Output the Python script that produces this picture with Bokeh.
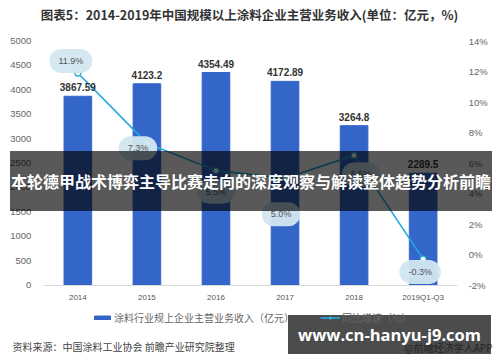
from bokeh.plotting import figure
from bokeh.models import (ColumnDataSource, Range1d, FactorRange, LinearAxis, LabelSet, Label,
                          Legend, LegendItem, FixedTicker, PrintfTickFormatter)
from bokeh.core.properties import value
from bokeh.embed import file_html
from bokeh.resources import INLINE

# ---- data ----
years = ["2014", "2015", "2016", "2017", "2018", "2019Q1-Q3"]
revenue = [3867.59, 4123.2, 4354.49, 4172.89, 3264.8, 2289.5]
growth = [11.9, 7.3, 5.5, 5.0, 6.5, -0.3]
left_ticks = [0, 500, 1000, 1500, 2000, 2500, 3000, 3500, 4000, 4500, 5000]
right_ticks = [-2, 0, 2, 4, 6, 8, 10, 12, 14]

title_text = "图表5：2014-2019年中国规模以上涂料企业主营业务收入(单位：亿元，%)"
bar_name = "涂料行业规上企业主营业务收入（亿元）"
line_name = "同比增速（%）"
source_text = "资料来源：中国涂料工业协会 前瞻产业研究院整理"
app_text = "@前瞻经济学人APP"
banner_text = "本轮德甲战术博弈主导比赛走向的深度观察与解读整体趋势分析前瞻"
url_text = "www.cn-hanyu-j9.com"

# ---- layout / style ----
W, H = 500, 362
TOP, BOTTOM = 40.5, 284.5          # pixel rows of the axis extremes
L_MAX, R_MIN, R_MAX = 5000, -2, 14
lab_dx = [-7, -9, 0, -4, 7, -3]     # pixel offsets of the growth bubbles
lab_dy = [12, -5, -21, -36, -19, -13]

BAR = "#3465C9"
LINE = "#22A7DD"
CJK = "Noto Sans CJK SC"
LAT = "Liberation Sans"

upp = L_MAX / (BOTTOM - TOP)
upp2 = (R_MAX - R_MIN) / (BOTTOM - TOP)
y_rng = Range1d(0 - (H - BOTTOM) * upp, L_MAX + TOP * upp)
pct_rng = Range1d(R_MIN - (H - BOTTOM) * upp2, R_MAX + TOP * upp2)

src = ColumnDataSource(dict(
    year=years, rev=revenue, g=growth,
    rev_txt=[f"{v:g}" for v in revenue],
))

p = figure(width=W, height=H, title=None,
           x_range=FactorRange(factors=years, range_padding=0.62,
                               range_padding_units="absolute"),
           y_range=y_rng, output_backend="svg", toolbar_location=None,
           min_border=0)
p.outline_line_color = None
p.background_fill_color = "white"
p.border_fill_color = "white"
p.grid.grid_line_color = None
p.extra_y_ranges = {"pct": pct_rng}

bars = p.vbar(x="year", top="rev", width=0.4, source=src, color=BAR)
ln = p.line(x="year", y="g", source=src, y_range_name="pct",
            line_color=LINE, line_width=1.6)
pts = p.scatter(x="year", y="g", source=src, y_range_name="pct", size=6,
                fill_color="white", line_color=LINE, line_width=1.2)

# axes (drawn at fixed locations inside the canvas)
ya = p.yaxis[0]
ya.ticker = FixedTicker(ticks=left_ticks)
ya.fixed_location = 0
ra = LinearAxis(y_range_name="pct", ticker=FixedTicker(ticks=right_ticks),
                formatter=PrintfTickFormatter(format="%d%%"))
ra.fixed_location = len(years)
p.add_layout(ra, "right")
for ax, so in ((ya, 12), (ra, 11)):
    ax.axis_line_color = None
    ax.major_tick_line_color = None
    ax.minor_tick_line_color = None
    ax.major_tick_out = 0
    ax.major_tick_in = 0
    ax.major_label_text_font = LAT
    ax.major_label_text_font_size = "9.5px"
    ax.major_label_text_color = "#666666"
    ax.major_label_standoff = so

xa = p.xaxis[0]
xa.fixed_location = 0
xa.bounds = (0, len(years))
xa.axis_line_color = "#D9D9D9"
xa.axis_line_width = 1
xa.major_tick_line_color = None
xa.minor_tick_line_color = None
xa.major_tick_out = 0
xa.major_tick_in = 0
xa.major_label_text_font = LAT
xa.major_label_text_font_size = "8px"
xa.major_label_text_color = "#555555"
xa.major_label_standoff = 8

# bar value labels
p.add_layout(LabelSet(x="year", y="rev", text="rev_txt", source=src,
                      y_offset=5, text_align="center", text_baseline="bottom",
                      text_font=value(LAT), text_font_style="bold",
                      text_font_size="10px", text_color="#333333"))

# growth labels in light bubbles (x: category centre on the factor range)
for i, (g, dx, dy) in enumerate(zip(growth, lab_dx, lab_dy)):
    p.add_layout(Label(x=i + 0.5, y=g, y_range_name="pct", x_offset=dx, y_offset=dy,
                       text=f"{g:.1f}%", text_align="center", text_baseline="middle",
                       text_font=LAT, text_font_size="9px", text_color="#555555",
                       background_fill_color="#D3E7F0", background_fill_alpha=0.95,
                       padding=dict(left=9, right=9, top=7, bottom=7),
                       border_radius=12))

# legend
legend = Legend(items=[LegendItem(label=bar_name, renderers=[bars]),
                       LegendItem(label=line_name, renderers=[ln, pts])],
                orientation="horizontal", location=(92, 37),
                glyph_width=20, glyph_height=5, label_standoff=2, spacing=26,
                padding=0, margin=0, border_line_color=None,
                background_fill_alpha=0,
                label_text_font=CJK, label_text_font_size="10px",
                label_text_color="#666666")
p.add_layout(legend, "center")

# title and notes (canvas px, y from top)
p.add_layout(Label(x=249, y=14, x_units="canvas", y_units="canvas",
                   text=title_text, text_align="center", text_baseline="middle",
                   text_font=CJK, text_font_style="bold", text_font_size="12.5px",
                   text_color="#333333"))
p.add_layout(Label(x=12, y=346, x_units="canvas", y_units="canvas",
                   text=source_text, text_align="left", text_baseline="middle",
                   text_font=CJK, text_font_size="10px", text_color="#444444"))
p.add_layout(Label(x=492, y=347, x_units="canvas", y_units="canvas",
                   text=app_text, text_align="right", text_baseline="middle",
                   text_font=CJK, text_font_size="10px", text_color="#777777"))

# overlays
p.add_layout(Label(x=250.5, y=180.5, x_units="canvas", y_units="canvas", level="overlay",
                   text=banner_text, text_align="center", text_baseline="middle",
                   text_font=CJK, text_font_style="bold", text_font_size="16px",
                   text_color="white",
                   background_fill_color="black", background_fill_alpha=0.65,
                   padding=dict(left=1, right=1, top=18, bottom=18)))
p.add_layout(Label(x=389, y=334, x_units="canvas", y_units="canvas", level="overlay",
                   text=url_text, text_align="center", text_baseline="middle",
                   text_font="Open Sans", text_font_style="bold", text_font_size="16.5px",
                   text_color="white",
                   background_fill_color="black", background_fill_alpha=0.7,
                   padding=dict(left=10, right=10, top=8, bottom=8)))

open("out.html", "w").write(file_html(p, INLINE))
